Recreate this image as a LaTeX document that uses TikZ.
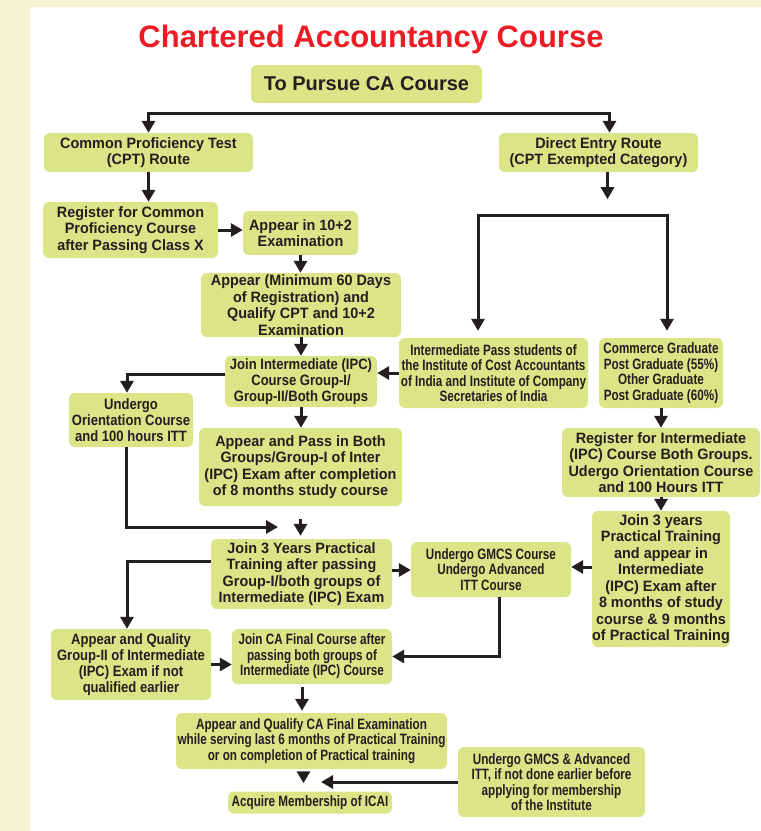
\documentclass[tikz,border=0pt]{standalone}
\usepackage{fontspec}
\setmainfont{Liberation Sans}
\newfontfamily\widefont{Liberation Sans}[FakeStretch=0.96]
\newfontfamily\titlefont{Liberation Sans}
\newfontfamily\midfont{Liberation Sans}[FakeStretch=0.87]
\newfontfamily\narrowfont{Liberation Sans}[FakeStretch=0.78]
\usetikzlibrary{arrows.meta}

\tikzset{
  box/.style={fill=boxfill, rounded corners=6pt, align=center, inner sep=0pt, text=inkcol},
  widebox/.style={box, font=\widefont\bfseries\fontsize{15}{16.5}\selectfont},
  midbox/.style={box, font=\midfont\bfseries\fontsize{15}{16}\selectfont},
  narrowbox/.style={box, font=\narrowfont\bfseries\fontsize{15}{15.5}\selectfont},
  flow/.style={draw=inkcol, line width=3pt, -{Triangle[width=13pt,length=12pt]}},
}

\begin{document}
\begin{tikzpicture}[x=1pt, y=-1pt]
            % Colours of the chart
            \definecolor{boxfill}{RGB}{217, 229, 135}  % light olive boxes
            \definecolor{bandcol}{RGB}{242, 245, 208}  % page border
            \definecolor{inkcol}{RGB}{35, 31, 32}      % text and arrows
            \definecolor{titlered}{RGB}{237, 28, 36}   % heading

            % Page and border
            \useasboundingbox (0,0) rectangle (761,831);
            \fill[bandcol] (0,0) rectangle (761,831);
            \fill[white] (30,7) rectangle (761,831);

            % Heading
            \node[anchor=base, text=titlered, font=\titlefont\bfseries\fontsize{31}{31}\selectfont] (title) at (371,47) {Chartered Accountancy Course};
            \node[box, minimum width=231, minimum height=38, font=\titlefont\bfseries\fontsize{20}{20}\selectfont] (pursue) at (366.5,84) {To Pursue CA Course};

            % --- CPT ROUTE (left) ---
            \node[widebox, minimum width=209, minimum height=39] (cpt) at (148.5,152.5) {Common Proficiency Test\\(CPT) Route};
            \node[widebox, minimum width=175, minimum height=56] (register) at (130.5,230) {Register for Common\\Proficiency Course\\after Passing Class X};
            \node[widebox, minimum width=115, minimum height=44] (appear10) at (300.5,233) {Appear in 10+2\\Examination};
            \node[widebox, minimum width=200, minimum height=64] (appear60) at (301,305) {Appear (Minimum 60 Days\\of Registration) and\\Qualify CPT and 10+2\\Examination};
            \node[midbox, minimum width=152, minimum height=51] (joinipc) at (301,381.5) {Join Intermediate (IPC)\\Course Group-I/\\Group-II/Both Groups};
            \node[midbox, minimum width=124, minimum height=54] (undergo) at (131,420) {Undergo\\Orientation Course\\and 100 hours ITT};
            \node[widebox, minimum width=203, minimum height=78] (appearpass) at (300.5,467) {Appear and Pass in Both\\Groups/Group-I of Inter\\(IPC) Exam after completion\\of 8 months study course};

            % --- DIRECT ENTRY ROUTE (right) ---
            \node[widebox, minimum width=199, minimum height=39] (direct) at (598.5,152.5) {Direct Entry Route\\(CPT Exempted Category)};
            \node[narrowbox, minimum width=189, minimum height=70] (intpass) at (493.5,373) {Intermediate Pass students of\\the Institute of Cost Accountants\\of India and Institute of Company\\Secretaries of India};
            \node[narrowbox, minimum width=124, minimum height=70] (commerce) at (661,373) {Commerce Graduate\\Post Graduate (55\%)\\Other Graduate\\Post Graduate (60\%)};
            \node[widebox, minimum width=198, minimum height=69] (regipc) at (661,462.5) {Register for Intermediate\\(IPC) Course Both Groups.\\Udergo Orientation Course\\and 100 Hours ITT};
            \node[widebox, minimum width=138, minimum height=136] (join3r) at (661,579) {Join 3 years\\Practical Training\\and appear in\\Intermediate\\(IPC) Exam after\\8 months of study\\course \& 9 months\\of Practical Training};
            \node[narrowbox, minimum width=160, minimum height=55] (gmcs) at (491,569.5) {Undergo GMCS Course\\Undergo Advanced\\ITT Course};

            % --- TRAINING AND FINAL ---
            \node[widebox, minimum width=181, minimum height=70] (join3) at (301.5,574) {Join 3 Years Practical\\Training after passing\\Group-I/both groups of\\Intermediate (IPC) Exam};
            \node[midbox, minimum width=160, minimum height=71] (quality) at (131,664.5) {Appear and Quality\\Group-II of Intermediate\\(IPC) Exam if not\\qualified earlier};
            \node[narrowbox, minimum width=160, minimum height=55] (joinca) at (312,656.5) {Join CA Final Course after\\passing both groups of\\Intermediate (IPC) Course};
            \node[narrowbox, minimum width=271, minimum height=56] (final) at (311.5,741) {Appear and Qualify CA Final Examination\\while serving last 6 months of Practical Training\\or on completion of Practical training};
            \node[narrowbox, minimum width=164, minimum height=22] (acquire) at (310,802.5) {Acquire Membership of ICAI};
            \node[narrowbox, minimum width=187, minimum height=70] (gmcsadv) at (551.5,782) {Undergo GMCS \& Advanced\\ITT, if not done earlier before\\applying for membership\\of the Institute};

            % Free ends of connectors
            \coordinate (split) at (380,113);
            \coordinate (fork) at (572,215);
            \coordinate (meet) at (278,527);
            \coordinate (memb) at (321,781);

            % --- CONNECTORS ---
            \draw[flow] (split) -| (cpt.north);
            \draw[flow] (split) -| ([xshift=11pt]direct.north);
            \draw[flow] (cpt.south) -- (cpt.south |- register.north);
            \draw[flow] (register.east) -- (register.east -| appear10.west);
            \foreach \a/\b in {appear10/appear60, appear60/joinipc, joinipc/appearpass, commerce/regipc, regipc/join3r} {
                    \draw[flow] (\a.south) -- (\a.south |- \b.north);
                }
            \draw[flow] ([xshift=9pt]direct.south) -- ([xshift=9pt, yshift=-27pt]direct.south);
            \draw[flow, shorten >=7pt] (fork) -| ([xshift=-15.5pt]intpass.north);
            \draw[flow, shorten >=7pt] (fork) -| ([xshift=6pt]commerce.north);
            \draw[flow] (intpass.west) -- (intpass.west -| joinipc.east);
            \draw[flow] ([yshift=7pt]joinipc.west) -| ([xshift=-4pt]undergo.north);
            \draw[flow] ([xshift=-5pt]undergo.south) |- (meet);
            \draw[flow, shorten <=13pt, shorten >=3pt] (appearpass.south) -- (appearpass.south |- join3.north);
            \draw[flow] ([yshift=4pt]join3.east) -- ([yshift=4pt]join3.east -| gmcs.west);
            \draw[flow] ([yshift=12pt]join3r.west) -- ([yshift=12pt]join3r.west -| gmcs.east);
            \draw[flow] ([yshift=13pt]join3.west) -| ([xshift=-4pt]quality.north);
            \draw[flow] (quality.east) -- (quality.east -| joinca.west);
            \draw[flow] ([xshift=8pt]gmcs.south) |- (joinca.east);
            \draw[flow, shorten <=3pt, shorten >=2pt] ([xshift=-10pt]joinca.south) -- ([xshift=-10pt]joinca.south |- final.north);
            \draw[flow, shorten <=4pt, shorten >=8pt] ([xshift=-8pt]final.south) -- ([xshift=-8pt]final.south |- acquire.north);
            \draw[flow] (gmcsadv.west) -- (gmcsadv.west -| memb);

        \end{tikzpicture}
\end{document}
